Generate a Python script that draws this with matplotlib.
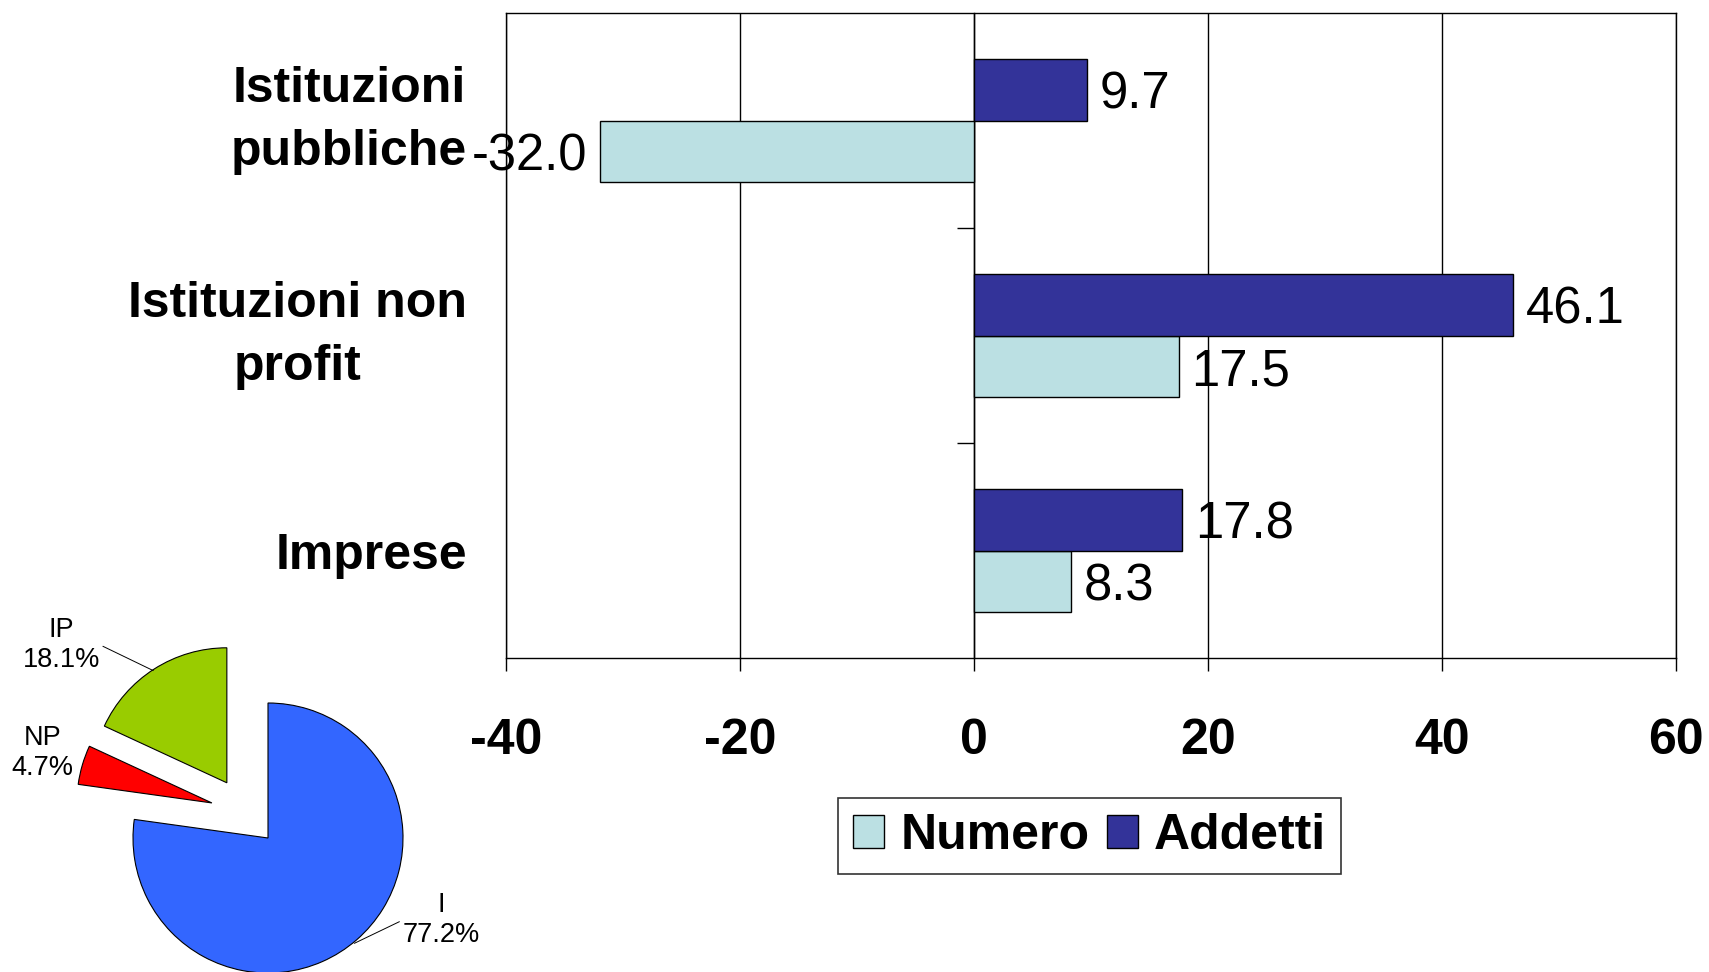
import matplotlib
matplotlib.use('Agg')
import matplotlib.pyplot as plt
import numpy as np

plt.rcParams['font.family'] = ['Liberation Sans', 'DejaVu Sans']

# dati
categorie = ['Imprese', 'Istituzioni non\nprofit', 'Istituzioni\npubbliche']
numero = [8.3, 17.5, -32.0]
addetti = [17.8, 46.1, 9.7]
serie = ['Numero', 'Addetti']
x_ticks = [-40, -20, 0, 20, 40, 60]

pie_labels = ['I', 'NP', 'IP']
pie_values = [77.2, 4.7, 18.1]

col_numero = '#BBE0E3'
col_addetti = '#333399'
pie_colors = ['#3366FF', '#FF0000', '#99CC00']

W, H = 1709, 972
fig = plt.figure(figsize=(W / 100, H / 100), dpi=100)

# grafico a barre
ax = fig.add_axes([506 / W, 314 / H, 1170 / W, 645 / H])
y = np.arange(len(categorie))
h = 0.285
b_num = ax.barh(y - h / 2, numero, height=h, color=col_numero, edgecolor='black', linewidth=1, label=serie[0], zorder=3)
b_add = ax.barh(y + h / 2, addetti, height=h, color=col_addetti, edgecolor='black', linewidth=1, label=serie[1], zorder=3)
for cont in [b_num, b_add]:
    for t in ax.bar_label(cont, fmt='%.1f', padding=9, fontsize=36.5, zorder=4):
        t.set_va('center_baseline')

ax.set_xlim(-40, 60)
ax.set_ylim(-0.5, 2.5)
ax.set_xticks(x_ticks)
ax.set_xticklabels([str(v) for v in x_ticks], fontsize=36, fontweight='bold')
ax.tick_params(axis='x', direction='out', length=9, width=1, pad=34)
ax.xaxis.grid(True, color='black', linewidth=1, zorder=1)

# asse categorie in x = 0
ax.spines['left'].set_position(('data', 0))
ax.spines['left'].set_linewidth(1)
ax.set_yticks([])
ax.set_yticks([0.5, 1.5], minor=True)
ax.tick_params(axis='y', which='minor', direction='out', length=12, width=1, labelleft=False)
for s in ['top', 'right', 'bottom']:
    ax.spines[s].set_linewidth(1)

# etichette categorie a sinistra
sec = ax.secondary_yaxis('left')
sec.set_yticks(y)
sec.set_yticklabels(categorie, fontsize=36, fontweight='bold', multialignment='center', linespacing=1.45)
sec.tick_params(length=0, pad=28)
sec.spines['left'].set_linewidth(1)
for t in sec.get_yticklabels():
    if '\n' in t.get_text():
        t.set_va('center')

leg = ax.legend(handles=[b_num, b_add], loc='center', bbox_to_anchor=(0.499, -0.276), ncol=2,
                prop={'weight': 'bold', 'size': 36}, frameon=True, fancybox=False,
                edgecolor='black', handlelength=0.62, handleheight=0.62, handletextpad=0.33,
                columnspacing=0.33, borderpad=0.3, borderaxespad=0)
leg.get_frame().set_linewidth(1.2)

# torta
r = 135
cx, cy = 268, 134
axp = fig.add_axes([0, 0, 500 / W, 372 / H])
wedges, _ = axp.pie(pie_values, colors=pie_colors, startangle=90, counterclock=False,
                    explode=[0, 0.5, 0.5], wedgeprops={'edgecolor': 'black', 'linewidth': 0.8})
# spostamento delle fette staccate (direzione come nell'originale)
stacco = {1: (0.49, 148), 2: (0.51, 126.7)}
for i, (d, ang) in stacco.items():
    wedges[i].set_center((d * np.cos(np.radians(ang)), d * np.sin(np.radians(ang))))
axp.set_xlim(-cx / r, (500 - cx) / r)
axp.set_ylim(-cy / r, (372 - cy) / r)
axp.set_aspect('equal')

lab_pos = [(1.28, -0.61), (-1.67, 0.63), (-1.53, 1.43)]
arc_pts = [(0.64, -0.78), None, (-0.85, 1.24)]
relp = [(0, 0.5), None, (1, 0.5)]
for lab, val, pos, pt, rp in zip(pie_labels, pie_values, lab_pos, arc_pts, relp):
    txt = f'{lab}\n{val:.1f}%'
    if pt is None:
        axp.text(pos[0], pos[1], txt, ha='center', va='center', fontsize=19.5, multialignment='center')
    else:
        axp.annotate(txt, xy=pt, xytext=pos, ha='center', va='center', fontsize=19.5,
                     multialignment='center',
                     arrowprops=dict(arrowstyle='-', color='black', lw=0.7, relpos=rp,
                                     shrinkA=0, shrinkB=0))

fig.savefig('out.png', dpi=100)
